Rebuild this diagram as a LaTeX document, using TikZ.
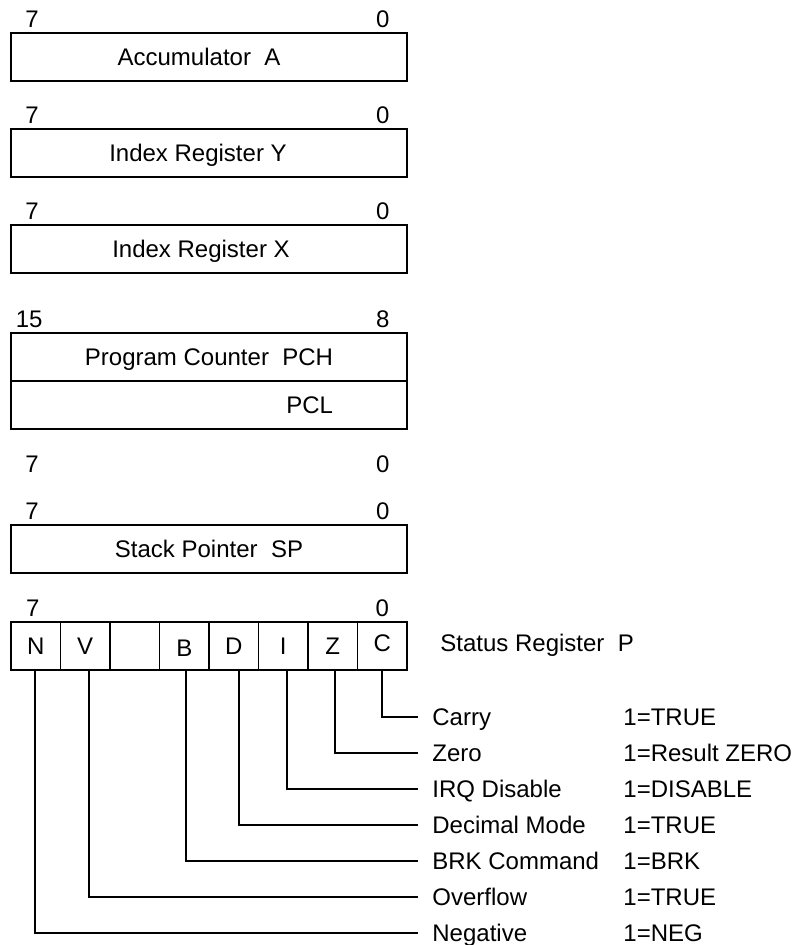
\documentclass[tikz,border=0pt]{standalone}
\usepackage{fontspec}
\setmainfont{Liberation Sans}
\usepackage{tikz}
\usetikzlibrary{positioning, calc}

\tikzset{
  regbox/.style={draw, line width=0.9pt, minimum width=198pt, minimum height=24pt,
                 inner sep=0pt, text height=8.6pt, text depth=0pt},
  flagbox/.style={draw, line width=0.9pt, minimum width=24.75pt, minimum height=24pt,
                  inner sep=0pt, text height=8.6pt, text depth=0pt},
  bitno/.style={inner sep=0pt, anchor=base},
  flagname/.style={anchor=west, inner xsep=7pt, inner ysep=0pt, text height=8.6pt, text depth=0pt},
  flagval/.style={anchor=west, inner sep=0pt, text height=8.6pt, text depth=0pt},
  lead/.style={line width=0.9pt},
}

\newcommand{\bitnums}[3]{%
  \node[bitno] (#1hi) at ($(#1.north west)+(22,-5)$) {#2};
  \node[bitno] (#1lo) at ($(#1.north east)+(-25,-5)$) {#3};
}

\begin{document}
\begin{tikzpicture}[x=0.5pt, y=-0.5pt, font=\fontsize{12}{14}\selectfont]
  \useasboundingbox (0,0) rectangle (799,945);

  % 8-bit registers
  \node[regbox] (acc) at (209,57) {Accumulator\ \ A\kern10pt};
  \bitnums{acc}{7}{0}
  \node[regbox] (idxy) at (209,153) {Index Register Y\kern11pt};
  \bitnums{idxy}{7}{0}
  \node[regbox] (idxx) at (209,249) {Index Register X\kern8pt};
  \bitnums{idxx}{7}{0}

  % program counter
  \node[regbox] (pch) at (209,357) {Program Counter\ \ PCH};
  \node[regbox] (pcl) at ($(pch)+(0,48)$) {\hphantom{Program Counter\ \ PCH}\llap{PCL}};
  \node[bitno] (pchhi) at ($(pch.north west)+(19,-5)$) {15};
  \node[bitno] (pchlo) at ($(pch.north east)+(-25,-5)$) {8};
  \node[bitno] (pclhi) at ($(pcl.south west)+(22,43)$) {7};
  \node[bitno] (pcllo) at ($(pcl.south east)+(-25,43)$) {0};

  \node[regbox] (sp) at (209,549) {Stack Pointer\ \ SP};
  \bitnums{sp}{7}{0}

  % status register
  \foreach \f/\dy [count=\i from 0, evaluate=\i as \b using int(7-\i)] in
      {N/0, V/0, /0, B/-1, D/0, I/0, Z/0, C/1.5}
    \node[flagbox] (b\b) at (35.75+49.5*\i,646) {\raisebox{\dy pt}{\f}};
  \node[bitno] (stathi) at ($(b7.north)+(-3,-5)$) {7};
  \node[bitno] (statlo) at ($(b0.north)+(0,-5)$) {0};
  \node[flagval] (statlbl) at (440,643) {Status Register\ \ P};

  \foreach \bit/\dx/\name/\val [count=\k from 0] in
      {0/0/Carry/1=TRUE, 1/1.1/Zero/1=Result ZERO, 2/1.9/IRQ Disable/1=DISABLE,
       3/2.6/Decimal Mode/1=TRUE, 4/0.9/BRK Command/1=BRK, 6/1.9/Overflow/1=TRUE,
       7/-0.4/Negative/1=NEG} {
    \node[flagname] (name\bit) at (418,717+36*\k) {\name};
    \node[flagval] (val\bit) at (623,717+36*\k) {\val};
    \draw[lead] ([xshift=\dx pt]b\bit.south) |- (name\bit.west);
  }
\end{tikzpicture}
\end{document}
